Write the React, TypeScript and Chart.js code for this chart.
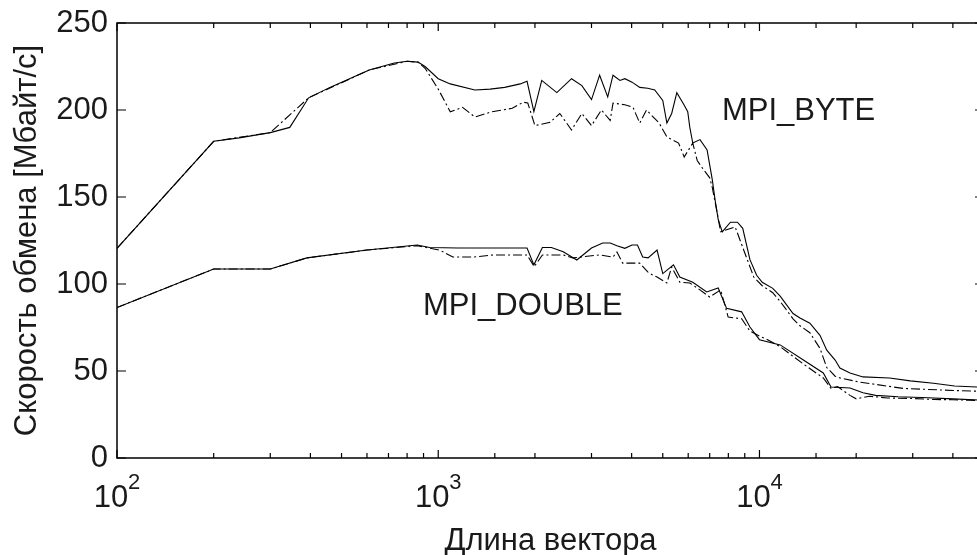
import React, { useEffect, useRef } from "react";
import { Chart, registerables } from "chart.js";

Chart.register(...registerables);

const FONT = '"Liberation Sans", Arial, Helvetica, sans-serif';
const TEXT_COLOR = "#1a1a1a";

// Axis settings
const xMin = 100;
const xMax = 50000;
const yMin = 0;
const yMax = 250;
const yStep = 50;
// x tick labels: base "10" with exponent
const xTickBase = "10";
const xTickExponents: Record<number, string> = { 100: "2", 1000: "3", 10000: "4" };
const xTitle = "Длина вектора";
const yTitle = "Скорость обмена [Мбайт/с]";

// Text labels (data coordinates)
const byteLabel = { text: "MPI_BYTE", x: 7640, y: 194 };
const doubleLabel = { text: "MPI_DOUBLE", x: 896, y: 82 };

// MPI_BYTE, solid
const byteSolidX = [100, 200, 240, 300, 345, 395, 460, 610, 730, 800, 865, 910, 1000, 1090, 1300, 1450, 1610, 1800, 1890, 1985, 2100, 2340, 2600, 2800, 3000, 3180, 3370, 3500, 3680, 3810, 4010, 4240, 4490, 4720, 5000, 5150, 5330, 5530, 5820, 5980, 6070, 6200, 6530, 6870, 7130, 7280, 7440, 7660, 8120, 8540, 8870, 9340, 9800, 10200, 11000, 11600, 12720, 13370, 14350, 15430, 16200, 17200, 17800, 19135, 21000, 25400, 29500, 34800, 40500, 47500, 50000];
const byteSolidY = [120.5, 182, 184, 187, 190, 207, 213, 223, 227, 228, 227.5, 225, 218, 215, 211.5, 212, 213, 215, 216.5, 199, 217, 210, 218, 214, 206, 220, 207.5, 220, 217, 218, 216, 213, 212.5, 211.5, 205.5, 192.5, 198, 210, 203, 199, 190, 181, 183, 177, 160, 148, 137, 130, 135.5, 135.5, 132, 114, 105, 101, 97.5, 93, 83, 80.5, 77.5, 70.5, 62, 56.3, 51.7, 48.9, 46.6, 46, 44.3, 43, 41.4, 40.8, 40.6];

// MPI_BYTE, dash-dot
const byteDashX = [100, 200, 300, 395, 610, 800, 865, 910, 1000, 1090, 1190, 1300, 1470, 1700, 1840, 1900, 2000, 2230, 2390, 2600, 2800, 3000, 3220, 3430, 3500, 3810, 4040, 4240, 4450, 4870, 5150, 5600, 5830, 6200, 6400, 6620, 7000, 7130, 7400, 7570, 8400, 9100, 9600, 10200, 11000, 11600, 12720, 13370, 14350, 15430, 16200, 17200, 17800, 20400, 28000, 40000, 50000];
const byteDashY = [120.5, 182, 187, 207, 223, 228, 227.5, 224, 212, 199, 201.5, 196, 199, 201, 204.5, 204, 191, 193, 198, 188.5, 198, 191, 200, 194, 204, 203, 201.5, 192.5, 200, 192.5, 184.5, 181, 173, 181, 171, 167, 161, 155.5, 140, 130, 132.8, 115.5, 104, 99, 95, 90, 80, 76, 72, 63, 52, 47, 46, 43.7, 40, 38.8, 38.3];

// MPI_DOUBLE, solid
const doubleSolidX = [100, 200, 300, 390, 600, 860, 940, 1150, 1890, 1985, 2110, 2250, 2450, 2700, 3000, 3250, 3430, 3600, 3810, 4010, 4170, 4330, 4500, 4800, 5000, 5400, 5650, 6200, 6850, 7440, 7900, 8800, 9340, 10000, 11600, 13700, 15800, 16700, 19135, 21000, 23000, 27000, 32000, 40000, 50000];
const doubleSolidY = [86.5, 108.6, 108.6, 115, 119.5, 122.4, 121, 120.7, 120.7, 111, 121, 121, 118.5, 113.8, 120.7, 123.6, 123.6, 122, 120.5, 122.4, 122.4, 115.5, 115, 119.5, 106, 111, 104, 101, 95.4, 97.7, 86, 84, 75.3, 68, 65, 56.3, 48.9, 40.8, 40.2, 37.5, 36, 35.2, 34.8, 34, 33.2];

// MPI_DOUBLE, dash-dot
const doubleDashX = [100, 200, 300, 390, 600, 860, 1010, 1110, 1290, 1480, 1890, 1990, 2110, 2450, 2620, 3180, 3500, 3600, 3750, 4240, 4490, 4560, 4800, 5150, 5330, 5650, 6070, 6530, 7000, 7570, 7990, 8800, 9340, 10000, 10600, 11600, 13700, 15800, 16700, 17500, 19135, 20000, 22000, 25000, 30000, 35000, 40000, 45000, 50000];
const doubleDashY = [86.5, 108.6, 108.6, 115, 119.5, 122, 119.5, 115.5, 115.5, 116.7, 116.7, 110, 116.7, 116.7, 115, 116.7, 115.5, 118.4, 112, 112, 107, 106, 104, 100.6, 109.8, 101, 100.6, 96.6, 92.5, 96.6, 81, 80, 73, 70, 68, 64, 54, 46, 40, 41, 36, 34, 35.5, 34.5, 34.2, 33.6, 33.5, 33.2, 33];

const toPoints = (xs: number[], ys: number[]) => xs.map((x, i) => ({ x, y: ys[i] }));

const frameTicksPlugin = {
  id: "frameTicks",
  afterDatasetsDraw(chart: any) {
    const { ctx, chartArea } = chart;
    const { left, right, top, bottom } = chartArea;
    const xs = chart.scales.x;
    const ys = chart.scales.y;
    ctx.save();
    ctx.strokeStyle = "#000";
    ctx.lineWidth = 1.5;
    ctx.beginPath();
    ctx.moveTo(left, top);
    ctx.lineTo(right, top);
    ctx.lineTo(right, bottom);
    ctx.lineTo(left, bottom);
    ctx.closePath();
    ctx.stroke();
    ctx.lineWidth = 1.2;
    ctx.beginPath();
    xs.ticks.forEach((t: any) => {
      const v = t.value;
      const px = xs.getPixelForValue(v);
      const major = Math.abs(Math.log10(v) - Math.round(Math.log10(v))) < 1e-9;
      const len = major ? 8 : 5;
      ctx.moveTo(px, bottom);
      ctx.lineTo(px, bottom - len);
      ctx.moveTo(px, top);
      ctx.lineTo(px, top + len);
    });
    ys.ticks.forEach((t: any) => {
      const py = ys.getPixelForValue(t.value);
      ctx.moveTo(left, py);
      ctx.lineTo(left + 9, py);
      ctx.moveTo(right, py);
      ctx.lineTo(right - 9, py);
    });
    ctx.stroke();

    // exponents of the x tick labels
    ctx.fillStyle = TEXT_COLOR;
    ctx.font = `22px ${FONT}`;
    ctx.textAlign = "left";
    ctx.textBaseline = "alphabetic";
    Object.keys(xTickExponents).forEach((k) => {
      const v = Number(k);
      const px = xs.getPixelForValue(v);
      ctx.fillText(xTickExponents[v], px + 11, bottom + 31);
    });
    ctx.restore();
  },
};

const textLabelsPlugin = {
  id: "textLabels",
  afterDatasetsDraw(chart: any) {
    const { ctx } = chart;
    const xs = chart.scales.x;
    const ys = chart.scales.y;
    ctx.save();
    ctx.fillStyle = TEXT_COLOR;
    ctx.font = `31px ${FONT}`;
    ctx.textAlign = "left";
    ctx.textBaseline = "alphabetic";
    [byteLabel, doubleLabel].forEach((l) => {
      ctx.fillText(l.text, xs.getPixelForValue(l.x), ys.getPixelForValue(l.y));
    });
    ctx.restore();
  },
};

export default function App() {
  const canvasRef = useRef<HTMLCanvasElement | null>(null);

  useEffect(() => {
    document.body.style.overflow = "hidden";
    const canvas = canvasRef.current;
    if (!canvas) return;
    const lineDs = (label: string, xs: number[], ys: number[], dash: number[]) => ({
      label,
      data: toPoints(xs, ys),
      borderColor: "#000",
      backgroundColor: "#000",
      borderWidth: 1.1,
      borderDash: dash,
      pointRadius: 0,
      tension: 0,
      fill: false,
    });
    const zeroPad = (s: any) => {
      s.paddingTop = 0;
      s.paddingBottom = 0;
      s.paddingLeft = 0;
      s.paddingRight = 0;
    };
    const chart = new Chart(canvas, {
      type: "line",
      data: {
        datasets: [
          lineDs("MPI_BYTE", byteSolidX, byteSolidY, []),
          lineDs("MPI_BYTE (2)", byteDashX, byteDashY, [9, 3, 2, 3]),
          lineDs("MPI_DOUBLE", doubleSolidX, doubleSolidY, []),
          lineDs("MPI_DOUBLE (2)", doubleDashX, doubleDashY, [9, 3, 2, 3]),
        ],
      },
      options: {
        responsive: false,
        animation: false,
        devicePixelRatio: 1,
        layout: { padding: { top: 23, right: 11, left: 0, bottom: 0 } },
        plugins: { legend: { display: false }, tooltip: { enabled: false } },
        scales: {
          x: {
            type: "logarithmic",
            min: xMin,
            max: xMax,
            grid: { display: false, drawTicks: false },
            border: { display: false },
            ticks: {
              autoSkip: false,
              maxRotation: 0,
              minRotation: 0,
              padding: 22,
              labelOffset: -6,
              color: TEXT_COLOR,
              font: { family: FONT, size: 31 },
              callback: (v: any) => (xTickExponents[Number(v)] !== undefined ? xTickBase : ""),
            },
            title: {
              display: true,
              text: xTitle,
              color: TEXT_COLOR,
              font: { family: FONT, size: 31 },
              padding: { top: 0, bottom: -5 },
            },
            afterFit: (s: any) => {
              s.height = 97;
              zeroPad(s);
            },
          },
          y: {
            min: yMin,
            max: yMax,
            grid: { display: false, drawTicks: false },
            border: { display: false },
            ticks: {
              stepSize: yStep,
              padding: 9,
              color: TEXT_COLOR,
              font: { family: FONT, size: 31 },
            },
            title: {
              display: true,
              text: yTitle,
              color: TEXT_COLOR,
              font: { family: FONT, size: 31 },
              padding: { top: 9, bottom: 0 },
            },
            afterFit: (s: any) => {
              s.width = 117;
              zeroPad(s);
            },
          },
        },
      } as any,
      plugins: [frameTicksPlugin, textLabelsPlugin],
    });
    return () => chart.destroy();
  }, []);

  return (
    <div style={{ position: "absolute", left: 0, top: 0, width: 977, height: 555, overflow: "hidden", background: "#fff" }}>
      <canvas ref={canvasRef} width={995} height={555} style={{ display: "block", width: 995, height: 555 }} />
    </div>
  );
}
